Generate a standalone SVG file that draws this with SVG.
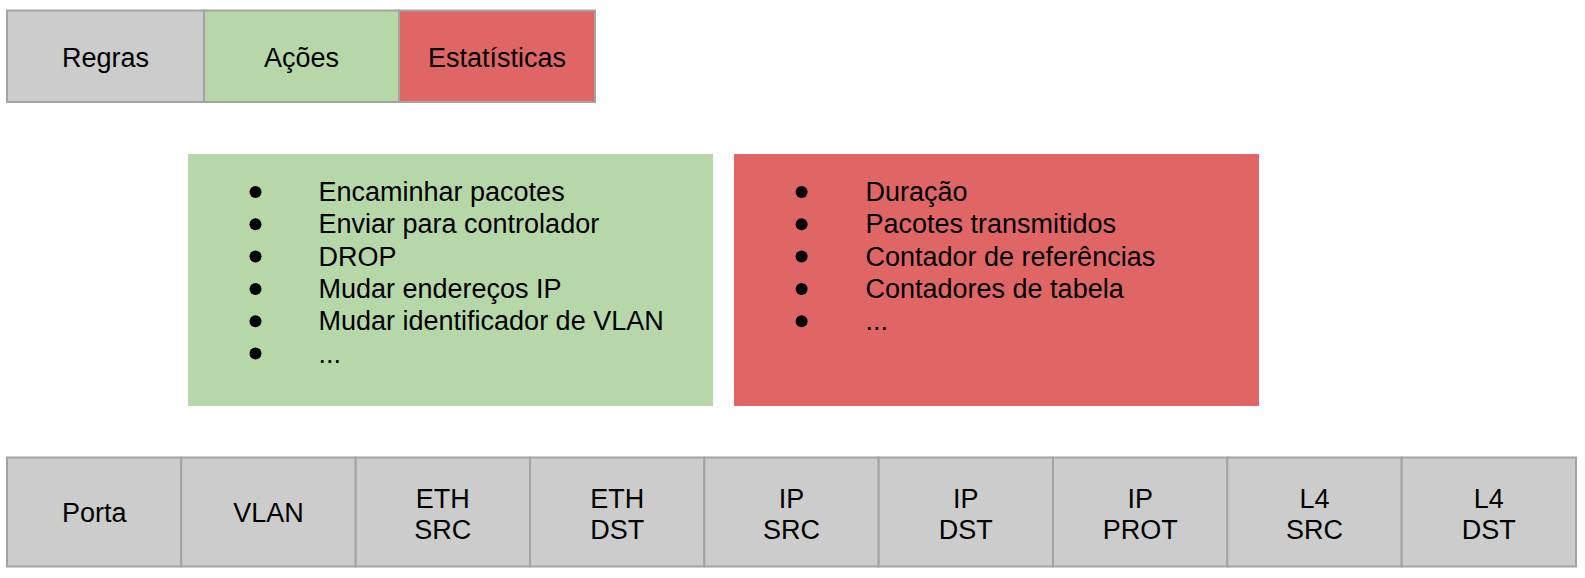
<svg xmlns="http://www.w3.org/2000/svg" width="1585" height="578" viewBox="0 0 1585 578">
<style>
text{font-family:"Liberation Sans",Arial,sans-serif;font-size:27px;fill:#000}
.c{text-anchor:middle}
.cell{stroke:#a3a3a3;stroke-width:2}
.gray{fill:#cccccc}
.green{fill:#b6d7a8}
.red{fill:#e06666}
.b{fill:#000}
</style>
<rect width="1585" height="578" fill="#ffffff"/>
<g id="header">
<g id="regras"><rect class="cell gray" x="7" y="10.5" width="197" height="91.5"/><text class="c" x="105.5" y="66.7">Regras</text></g>
<g id="acoes"><rect class="cell green" x="204" y="10.5" width="195" height="91.5"/><text class="c" x="301.5" y="66.7">Ações</text></g>
<g id="estatisticas"><rect class="cell red" x="399" y="10.5" width="196" height="91.5"/><text class="c" x="497" y="66.7">Estatísticas</text></g>
</g>
<g id="acoes-list">
<rect class="green" x="188" y="154" width="525" height="252"/>
<circle class="b" cx="255.5" cy="192" r="6"/>
<circle class="b" cx="255.5" cy="224.3" r="6"/>
<circle class="b" cx="255.5" cy="256.6" r="6"/>
<circle class="b" cx="255.5" cy="288.9" r="6"/>
<circle class="b" cx="255.5" cy="321.2" r="6"/>
<circle class="b" cx="255.5" cy="353.5" r="6"/>
<text x="318.5" y="201">Encaminhar pacotes</text>
<text x="318.5" y="233.3">Enviar para controlador</text>
<text x="318.5" y="265.6">DROP</text>
<text x="318.5" y="297.9">Mudar endereços IP</text>
<text x="318.5" y="330.2">Mudar identificador de VLAN</text>
<text x="318.5" y="362.5">...</text>
</g>
<g id="estatisticas-list">
<rect class="red" x="734" y="154" width="525" height="252"/>
<circle class="b" cx="801.6" cy="192" r="6"/>
<circle class="b" cx="801.6" cy="224.3" r="6"/>
<circle class="b" cx="801.6" cy="256.6" r="6"/>
<circle class="b" cx="801.6" cy="288.9" r="6"/>
<circle class="b" cx="801.6" cy="321.2" r="6"/>
<text x="865.5" y="201">Duração</text>
<text x="865.5" y="233.3">Pacotes transmitidos</text>
<text x="865.5" y="265.6">Contador de referências</text>
<text x="865.5" y="297.9">Contadores de tabela</text>
<text x="865.5" y="330.2">...</text>
</g>
<g id="campos">
<g id="porta"><rect class="cell gray" x="7" y="457.5" width="174.33" height="109"/><text class="c" x="94.2" y="521.7">Porta</text></g>
<g id="vlan"><rect class="cell gray" x="181.33" y="457.5" width="174.33" height="109"/><text class="c" x="268.5" y="521.7">VLAN</text></g>
<g id="eth-src"><rect class="cell gray" x="355.67" y="457.5" width="174.33" height="109"/><text class="c" x="442.8" y="507.5">ETH</text><text class="c" x="442.8" y="538.5">SRC</text></g>
<g id="eth-dst"><rect class="cell gray" x="530" y="457.5" width="174.33" height="109"/><text class="c" x="617.2" y="507.5">ETH</text><text class="c" x="617.2" y="538.5">DST</text></g>
<g id="ip-src"><rect class="cell gray" x="704.33" y="457.5" width="174.33" height="109"/><text class="c" x="791.5" y="507.5">IP</text><text class="c" x="791.5" y="538.5">SRC</text></g>
<g id="ip-dst"><rect class="cell gray" x="878.67" y="457.5" width="174.33" height="109"/><text class="c" x="965.8" y="507.5">IP</text><text class="c" x="965.8" y="538.5">DST</text></g>
<g id="ip-prot"><rect class="cell gray" x="1053" y="457.5" width="174.33" height="109"/><text class="c" x="1140.2" y="507.5">IP</text><text class="c" x="1140.2" y="538.5">PROT</text></g>
<g id="l4-src"><rect class="cell gray" x="1227.33" y="457.5" width="174.33" height="109"/><text class="c" x="1314.5" y="507.5">L4</text><text class="c" x="1314.5" y="538.5">SRC</text></g>
<g id="l4-dst"><rect class="cell gray" x="1401.67" y="457.5" width="174.33" height="109"/><text class="c" x="1488.8" y="507.5">L4</text><text class="c" x="1488.8" y="538.5">DST</text></g>
</g>
<g id="connectors"/>
</svg>
